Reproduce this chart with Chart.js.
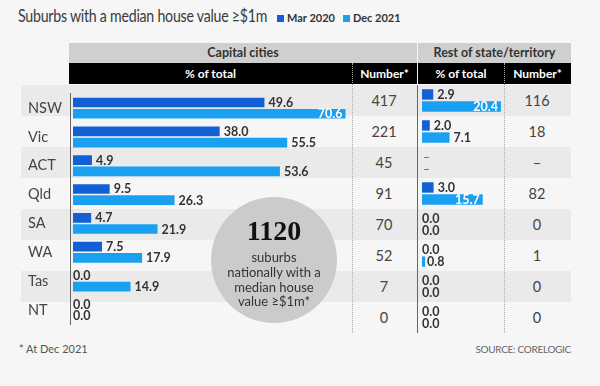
<!DOCTYPE html>
<html>
<head>
<meta charset="utf-8">
<script src="https://cdn.jsdelivr.net/npm/chart.js@4.4.1/dist/chart.umd.min.js"></script>
<style>
  body { margin: 0; background: #f6f6f6; font-family: Lato, "Open Sans", sans-serif; color: #333; }
  #wrap { position: relative; width: 600px; height: 386px; overflow: hidden; }
  .abs { position: absolute; }
  .hdr { position: absolute; font-weight: bold; font-size: 12.5px; text-align: center; }
  .band { position: absolute; left: 21px; width: 550px; height: 31px; background: #eaeaea; }
  .num { position: absolute; width: 60px; text-align: center; font-size: 14.5px; color: #444; line-height: 31px; }
  .dots { position: absolute; top: 63px; height: 270px; border-left: 1px dotted #aaa; }
  canvas { position: absolute; }
</style>
</head>
<body>
<div id="wrap">
  <div class="abs" style="left:18px;top:5px;font-size:17.5px;letter-spacing:-0.3px;color:#3a3a3a;white-space:nowrap;transform:scaleX(0.81);transform-origin:0 0;">Suburbs with a median house value ≥$1m</div>
  <div id="legend" class="abs" style="left:277px;top:11px;font-size:11px;font-weight:bold;white-space:nowrap;"></div>

  <div class="hdr" style="left:69px;top:43px;width:348px;height:20px;line-height:20px;background:#cfcfcf;">Capital cities</div>
  <div class="hdr" style="left:418px;top:43px;width:153px;height:20px;line-height:20px;background:#cfcfcf;">Rest of state/territory</div>
  <div class="abs" style="left:69px;top:63px;width:348px;height:21px;background:#000;"></div>
  <div class="abs" style="left:418px;top:63px;width:153px;height:21px;background:#000;"></div>
  <div class="hdr" style="left:69px;top:63px;width:283px;line-height:21px;color:#fff;font-size:12px;">% of total</div>
  <div class="hdr" style="left:352px;top:63px;width:65px;line-height:21px;color:#fff;font-size:12px;">Number*</div>
  <div class="hdr" style="left:418px;top:63px;width:86px;line-height:21px;color:#fff;font-size:12px;">% of total</div>
  <div class="hdr" style="left:504px;top:63px;width:67px;line-height:21px;color:#fff;font-size:12px;">Number*</div>

  <div id="rows"></div>
  <div class="dots" style="left:352px;"></div>
  <div class="dots" style="left:504px;"></div>

  <canvas id="capChart" width="331" height="248" style="left:21px;top:85px;"></canvas>
  <canvas id="restChart" width="92" height="248" style="left:412px;top:85px;"></canvas>

  <div class="abs" style="left:211px;top:197px;width:126px;height:126px;border-radius:50%;background:#cbcbcb;"></div>
  <div id="total" class="abs" style="left:211px;top:216px;width:126px;text-align:center;font-family:'Liberation Serif',serif;font-weight:bold;font-size:28px;color:#111;line-height:30px;"></div>
  <div class="abs" style="left:211px;top:250px;width:126px;text-align:center;font-size:13px;line-height:14.8px;color:#333;">suburbs<br>nationally with a<br>median house<br>value ≥$1m*</div>

  <div class="abs" style="left:19px;top:342px;font-size:11px;color:#555;">* At Dec 2021</div>
  <div class="abs" style="right:29px;top:343px;font-size:10px;color:#666;letter-spacing:-0.3px;">SOURCE: CORELOGIC</div>
</div>

<script>
const states = ['NSW', 'Vic', 'ACT', 'Qld', 'SA', 'WA', 'Tas', 'NT'];
const seriesNames = ['Mar 2020', 'Dec 2021'];
const capMar = [49.6, 38.0, 4.9, 9.5, 4.7, 7.5, 0.0, 0.0];
const capDec = [70.6, 55.5, 53.6, 26.3, 21.9, 17.9, 14.9, 0.0];
const capNumber = [417, 221, 45, 91, 70, 52, 7, 0];
const restMar = [2.9, 2.0, null, 3.0, 0.0, 0.0, 0.0, 0.0];
const restDec = [20.4, 7.1, null, 15.7, 0.0, 0.8, 0.0, 0.0];
const restNumber = [116, 18, null, 82, 0, 1, 0, 0];
const nationalTotal = 1120;

const darkBlue = '#1160d4';
const lightBlue = '#1aa0f0';

// legend
document.getElementById('legend').innerHTML = seriesNames.map((n, i) =>
  '<span style="display:inline-block;width:7px;height:7px;background:' + (i ? lightBlue : darkBlue) +
  ';margin-right:3px;"></span><span style="margin-right:8px;">' + n + '</span>').join('');

document.getElementById('total').textContent = nationalTotal;

// row bands + number columns
let rowsHtml = '';
states.forEach((s, i) => {
  const top = 85 + i * 31;
  if (i % 2 === 0) rowsHtml += '<div class="band" style="top:' + top + 'px"></div>';
  rowsHtml += '<div class="num" style="left:354px;top:' + top + 'px">' + capNumber[i] + '</div>';
  rowsHtml += '<div class="num" style="left:507px;top:' + top + 'px">' + (restNumber[i] === null ? '–' : restNumber[i]) + '</div>';
});
document.getElementById('rows').innerHTML = rowsHtml;

const valueLabels = {
  id: 'valueLabels',
  afterDatasetsDraw(chart) {
    const ctx = chart.ctx;
    const xs = chart.scales.x;
    const zero = xs.getPixelForValue(0);
    ctx.save();
    ctx.textBaseline = 'middle';
    chart.data.datasets.forEach((ds, di) => {
      chart.getDatasetMeta(di).data.forEach((bar, i) => {
        const v = ds.data[i];
        const y = bar.y + 0.5;
        if (v === null) {
          ctx.font = '12px Lato';
          ctx.fillStyle = '#555';
          ctx.textAlign = 'left';
          ctx.fillText('–', zero + 1, y);
          return;
        }
        ctx.font = 'bold 12.5px Lato';
        const txt = v.toFixed(1);
        const w = ctx.measureText(txt).width;
        const end = xs.getPixelForValue(v);
        if (v === 0) {
          ctx.fillStyle = '#333';
          ctx.textAlign = 'left';
          ctx.fillText(txt, zero, y);
        } else if (end + 4 + w > chart.chartArea.right) {
          ctx.fillStyle = '#fff';
          ctx.textAlign = 'right';
          ctx.fillText(txt, end - 3, y);
        } else {
          ctx.fillStyle = '#333';
          ctx.textAlign = 'left';
          ctx.fillText(txt, end + (end - zero < 5 ? 2 : 4), y);
        }
      });
    });
    ctx.restore();
  }
};

function makeChart(id, mar, dec, min, max, showLabels) {
  return new Chart(document.getElementById(id), {
    type: 'bar',
    data: {
      labels: states,
      datasets: [
        { label: seriesNames[0], data: mar, backgroundColor: darkBlue, barPercentage: 0.86, categoryPercentage: 0.78 },
        { label: seriesNames[1], data: dec, backgroundColor: lightBlue, barPercentage: 0.86, categoryPercentage: 0.78 }
      ]
    },
    options: {
      indexAxis: 'y',
      responsive: false,
      animation: false,
      layout: { padding: { left: showLabels ? 7 : 0, right: 0, top: 0, bottom: 0 } },
      plugins: { legend: { display: false }, tooltip: { enabled: false } },
      scales: {
        x: { display: false, min: min, max: max },
        y: {
          grid: { display: false },
          border: { display: true, color: '#666', width: 1 },
          ticks: { display: showLabels, color: '#444', font: { family: 'Lato', size: 14.5 }, crossAlign: 'far', padding: 0 },
          afterFit(scale) { scale.width = showLabels ? 42 : 5; }
        }
      }
    },
    plugins: [valueLabels]
  });
}

makeChart('capChart', capMar, capDec, -0.78, 72.28, true);
makeChart('restChart', restMar, restDec, -1.3, 21.2, false);
</script>
</body>
</html>
